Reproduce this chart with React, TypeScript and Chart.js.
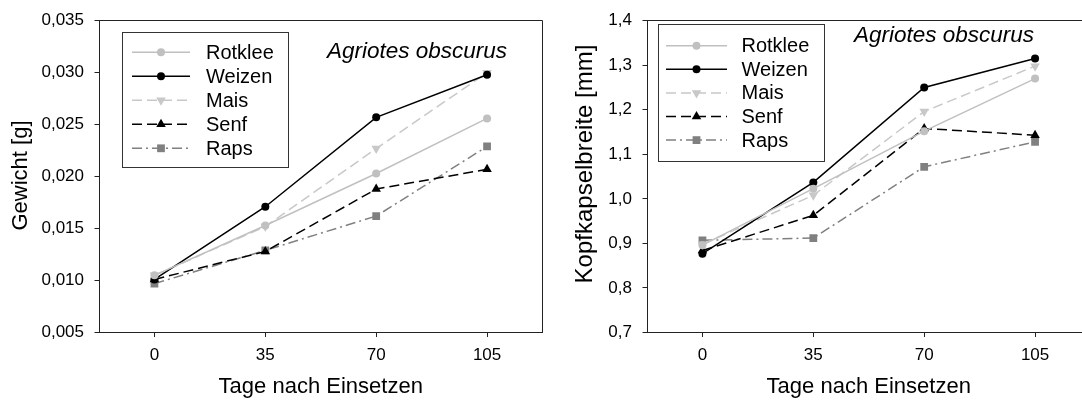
import React, { useEffect, useRef } from "react";
import { Chart, registerables } from "chart.js";

Chart.register(...registerables);

// ---------- data ----------
const days = [0, 35, 70, 105];
const xTickValues = [0, 35, 70, 105];
const seriesNames = ["Rotklee", "Weizen", "Mais", "Senf", "Raps"];

const gewichtRotklee = [0.0105, 0.0153, 0.0203, 0.0256];
const gewichtWeizen = [0.0101, 0.0171, 0.0257, 0.0298];
const gewichtMais = [0.0105, 0.0152, 0.0227, 0.03];
const gewichtSenf = [0.0101, 0.0128, 0.0188, 0.0207];
const gewichtRaps = [0.0097, 0.0129, 0.0162, 0.0229];

const kopfRotklee = [0.896, 1.023, 1.152, 1.27];
const kopfWeizen = [0.877, 1.037, 1.25, 1.315];
const kopfMais = [0.898, 1.008, 1.196, 1.298];
const kopfSenf = [0.884, 0.963, 1.158, 1.143];
const kopfRaps = [0.907, 0.912, 1.072, 1.128];

const gewichtTicks = [0.005, 0.01, 0.015, 0.02, 0.025, 0.03, 0.035];
const kopfTicks = [0.7, 0.8, 0.9, 1.0, 1.1, 1.2, 1.3, 1.4];

const speciesLabel = "Agriotes obscurus";
const xTitle = "Tage nach Einsetzen";

// ---------- styles ----------
const FONT = "'Liberation Sans', Arial, sans-serif";
const AXIS_COLOR = "#222222";

const seriesStyles = [
  { color: "#c0c0c0", dash: [] as number[], point: "circle", radius: 4, rotation: 0 },
  { color: "#000000", dash: [] as number[], point: "circle", radius: 4, rotation: 0 },
  { color: "#c8c8c8", dash: [10, 5], point: "triangle", radius: 5.5, rotation: 180 },
  { color: "#000000", dash: [10, 5], point: "triangle", radius: 5.5, rotation: 0 },
  { color: "#808080", dash: [10, 4, 2, 4], point: "rect", radius: 5.5, rotation: 0 },
];

type PanelCfg = {
  left: number;
  series: number[][];
  yTicks: number[];
  yMin: number;
  yMax: number;
  decimals: number;
  yTitle: string;
  yTitleX: number;
  yTitleY: number;
  yTitleSize: number;
  annoX: number;
  annoY: number;
  legend: { x: number; y: number; w: number; h: number; first: number; step: number; s1: number; s2: number; tx: number };
};

function drawMarker(ctx: CanvasRenderingContext2D, style: string, x: number, y: number, r: number, rotDeg: number) {
  ctx.beginPath();
  if (style === "circle") {
    ctx.arc(x, y, r, 0, Math.PI * 2);
  } else if (style === "triangle") {
    let rad = (rotDeg * Math.PI) / 180;
    const step = (2 * Math.PI) / 3;
    ctx.moveTo(x + Math.sin(rad) * r, y - Math.cos(rad) * r);
    rad += step;
    ctx.lineTo(x + Math.sin(rad) * r, y - Math.cos(rad) * r);
    rad += step;
    ctx.lineTo(x + Math.sin(rad) * r, y - Math.cos(rad) * r);
    ctx.closePath();
  } else {
    const s = Math.SQRT1_2 * r;
    ctx.rect(x - s, y - s, 2 * s, 2 * s);
  }
  ctx.fill();
}

function makeDecorPlugin(cfg: PanelCfg) {
  return {
    id: "decor",
    afterDraw(chart: any) {
      const ctx: CanvasRenderingContext2D = chart.ctx;
      const ca = chart.chartArea;
      ctx.save();
      // frame (top & right)
      ctx.strokeStyle = AXIS_COLOR;
      ctx.lineWidth = 1;
      const l = Math.round(ca.left - 0.5) + 0.5;
      const t = Math.round(ca.top - 0.5) + 0.5;
      const r = Math.round(ca.right - 0.5) + 0.5;
      const b = Math.round(ca.bottom - 0.5) + 0.5;
      ctx.beginPath();
      ctx.moveTo(l, t);
      ctx.lineTo(r, t);
      ctx.lineTo(r, b);
      ctx.stroke();

      // y title
      ctx.save();
      ctx.translate(cfg.yTitleX, cfg.yTitleY);
      ctx.rotate(-Math.PI / 2);
      ctx.fillStyle = "#000";
      ctx.font = `${cfg.yTitleSize}px ${FONT}`;
      ctx.textAlign = "center";
      ctx.textBaseline = "middle";
      ctx.fillText(cfg.yTitle, 0, 0);
      ctx.restore();

      // species annotation
      ctx.fillStyle = "#000";
      ctx.font = `italic 22.5px ${FONT}`;
      ctx.textAlign = "center";
      ctx.textBaseline = "alphabetic";
      ctx.fillText(speciesLabel, cfg.annoX, cfg.annoY);

      // legend
      const lg = cfg.legend;
      ctx.fillStyle = "#fff";
      ctx.fillRect(lg.x, lg.y, lg.w, lg.h);
      ctx.strokeStyle = "#333";
      ctx.lineWidth = 1;
      ctx.strokeRect(Math.round(lg.x) + 0.5, Math.round(lg.y) + 0.5, Math.round(lg.w), Math.round(lg.h));
      seriesNames.forEach((name, i) => {
        const st = seriesStyles[i];
        const y = lg.y + lg.first + i * lg.step;
        ctx.strokeStyle = st.color;
        ctx.lineWidth = 1.5;
        ctx.setLineDash(st.dash);
        ctx.beginPath();
        ctx.moveTo(lg.s1, y);
        ctx.lineTo(lg.s2, y);
        ctx.stroke();
        ctx.setLineDash([]);
        ctx.fillStyle = st.color;
        drawMarker(ctx, st.point, (lg.s1 + lg.s2) / 2, y, st.radius, st.rotation);
        ctx.fillStyle = "#000";
        ctx.font = `20px ${FONT}`;
        ctx.textAlign = "left";
        ctx.textBaseline = "middle";
        ctx.fillText(name, lg.tx, y + 1);
      });
      ctx.restore();
    },
  };
}

function buildConfig(cfg: PanelCfg): any {
  const datasets = cfg.series.map((vals, i) => {
    const st = seriesStyles[i];
    return {
      label: seriesNames[i],
      data: days.map((d, j) => ({ x: d, y: vals[j] })),
      borderColor: st.color,
      backgroundColor: st.color,
      borderWidth: 1.5,
      borderDash: st.dash,
      pointStyle: st.point,
      pointRadius: st.radius,
      pointRotation: st.rotation,
      pointBorderWidth: 0,
      pointBackgroundColor: st.color,
      tension: 0,
      fill: false,
    };
  });
  return {
    type: "line",
    data: { datasets },
    options: {
      responsive: false,
      animation: false,
      events: [],
      layout: { padding: { top: 17, right: 5, left: 0, bottom: 0 } },
      plugins: { legend: { display: false }, tooltip: { enabled: false }, title: { display: false } },
      scales: {
        x: {
          type: "linear",
          min: -17.5,
          max: 122.5,
          afterBuildTicks: (scale: any) => {
            scale.ticks = xTickValues.map((v) => ({ value: v }));
          },
          afterFit: (scale: any) => {
            scale.height = 67.5;
          },
          grid: { drawOnChartArea: false, drawTicks: true, tickLength: 4.5, color: AXIS_COLOR, lineWidth: 1 },
          border: { display: true, color: AXIS_COLOR, width: 1 },
          ticks: {
            color: "#000",
            padding: 8.5,
            maxRotation: 0,
            font: { family: FONT, size: 17 },
            callback: (v: any) => String(v),
          },
          title: {
            display: true,
            text: xTitle,
            color: "#000",
            font: { family: FONT, size: 22 },
            padding: { top: 0, bottom: 0 },
          },
        },
        y: {
          type: "linear",
          min: cfg.yMin,
          max: cfg.yMax,
          afterBuildTicks: (scale: any) => {
            scale.ticks = cfg.yTicks.map((v) => ({ value: v }));
          },
          afterFit: (scale: any) => {
            scale.width = 99;
          },
          grid: { drawOnChartArea: false, drawTicks: true, tickLength: 4.5, color: AXIS_COLOR, lineWidth: 1 },
          border: { display: true, color: AXIS_COLOR, width: 1 },
          ticks: {
            color: "#000",
            padding: 10.5,
            font: { family: FONT, size: 17 },
            callback: (v: any) => Number(v).toFixed(cfg.decimals).replace(".", ","),
          },
        },
      },
    },
    plugins: [makeDecorPlugin(cfg)],
  };
}

const leftPanel: PanelCfg = {
  left: 0,
  series: [gewichtRotklee, gewichtWeizen, gewichtMais, gewichtSenf, gewichtRaps],
  yTicks: gewichtTicks,
  yMin: 0.005,
  yMax: 0.035,
  decimals: 3,
  yTitle: "Gewicht [g]",
  yTitleX: 20.7,
  yTitleY: 175.5,
  yTitleSize: 22,
  annoX: 417,
  annoY: 58,
  legend: { x: 122, y: 32, w: 166, h: 135, first: 20.3, step: 24, s1: 132, s2: 190, tx: 206 },
};

const rightPanel: PanelCfg = {
  left: 548,
  series: [kopfRotklee, kopfWeizen, kopfMais, kopfSenf, kopfRaps],
  yTicks: kopfTicks,
  yMin: 0.7,
  yMax: 1.4,
  decimals: 1,
  yTitle: "Kopfkapselbreite [mm]",
  yTitleX: 37,
  yTitleY: 164,
  yTitleSize: 24,
  annoX: 396,
  annoY: 42.3,
  legend: { x: 109.5, y: 24, w: 166, h: 137, first: 21.7, step: 23.6, s1: 118, s2: 179, tx: 193.5 },
};

function Panel({ cfg }: { cfg: PanelCfg }) {
  const ref = useRef<HTMLCanvasElement | null>(null);
  useEffect(() => {
    if (!ref.current) return;
    const chart = new Chart(ref.current, buildConfig(cfg));
    return () => chart.destroy();
  }, [cfg]);
  return (
    <canvas
      ref={ref}
      width={548}
      height={400}
      style={{ position: "absolute", left: cfg.left, top: 0, width: 548, height: 400 }}
    />
  );
}

export default function App() {
  return (
    <div
      style={{
        position: "absolute",
        left: 0,
        top: 0,
        width: 1082,
        height: 400,
        overflow: "hidden",
        background: "#ffffff",
      }}
    >
      <Panel cfg={leftPanel} />
      <Panel cfg={rightPanel} />
    </div>
  );
}
